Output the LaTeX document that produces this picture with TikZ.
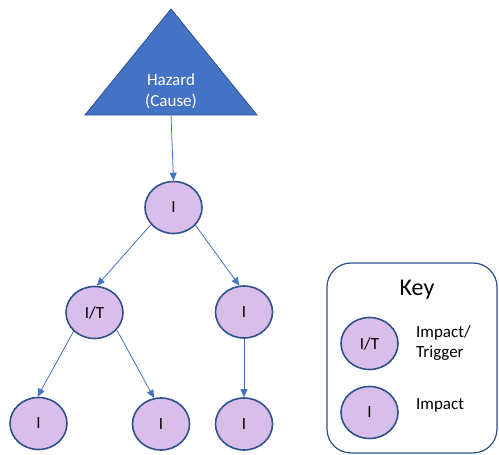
\documentclass[tikz,border=0pt]{standalone}
\usepackage{fontspec}
\setmainfont{Carlito}
\usetikzlibrary{shapes.geometric,arrows.meta}
\definecolor{tri}{HTML}{4472C4}
\definecolor{edge}{HTML}{2F528F}
\definecolor{lav}{HTML}{D9BEE9}
\tikzset{
  circ/.style={ellipse, draw=edge, line width=1.6pt, fill=lav, minimum width=57pt, minimum height=52pt, inner sep=0pt, font=\fontsize{17}{19}\selectfont},
  conn/.style={draw=tri, line width=0.8pt, -{Triangle[length=8pt,width=7pt]}},
  lbl/.style={font=\fontsize{17}{20}\selectfont, align=left, anchor=west, inner sep=0pt}
}
\begin{document}
\begin{tikzpicture}[x=1pt,y=-1pt]
\useasboundingbox (0,0) rectangle (499,455);
% hazard triangle
\draw[draw=edge, fill=tri, line width=0.8pt] (171,9) -- (257,115) -- (85,115) -- cycle;
\node[text=white, align=center, font=\fontsize{17}{21}\selectfont] (haz) at (171,91) {Hazard\\(Cause)};
\coordinate (hazb) at (171,115);
% nodes
\node[circ] (top) at (173.5,207.5) {I};
\node[circ] (it) at (94.5,312.5) {I/T};
\node[circ] (ri) at (244,312) {I};
\node[circ] (b1) at (38.5,423.5) {I};
\node[circ] (b2) at (161,424) {I};
\node[circ] (b3) at (244,424) {I};
% connectors
\draw[conn] (hazb) -- (top.north);
\draw[conn] (top.217) -- (it.85);
\draw[conn] (top.321) -- (ri.100);
\draw[conn] (it.222) -- (b1.92);
\draw[conn] (it.322) -- (b2.105);
\draw[conn] (ri.south) -- (b3.north);
% key
\draw[draw=edge, line width=1.2pt, rounded corners=24pt] (327,263) rectangle (497,453);
\node[font=\fontsize{24}{26}\selectfont] (key) at (417,290) {Key};
\node[circ] (kit) at (369.5,343.5) {I/T};
\node[circ] (ki) at (369.5,412.5) {I};
\node[lbl] (kitl) at (416,343) {Impact/\\Trigger};
\node[lbl] (kil) at (416,405) {Impact};
\end{tikzpicture}
\end{document}
